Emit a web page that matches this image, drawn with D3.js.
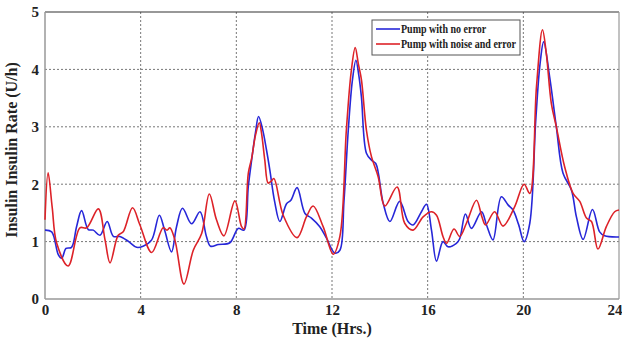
<!DOCTYPE html>
<html><head><meta charset="utf-8">
<script src="https://cdn.jsdelivr.net/npm/d3@7/dist/d3.min.js"></script>
<style>body{margin:0;background:#fff}svg{display:block}</style>
</head><body>
<svg id="c" width="622" height="340"></svg>
<script>
const xTicks = [0,4,8,12,16,20,24];
const yTicks = [0,1,2,3,4,5];
const seriesNames = ["Pump with no error","Pump with noise and error"];
const blueT = [0,0.28,0.56,0.7,0.88,1.11,1.32,1.53,1.81,2.02,2.3,2.6,2.86,3.13,3.5,3.83,4.1,4.46,4.78,5.0,5.29,5.5,5.75,6.13,6.48,6.75,6.92,7.25,7.73,8.08,8.32,8.5,8.64,8.8,8.93,9.1,9.26,9.4,9.6,9.82,10.1,10.28,10.54,10.87,11.14,11.49,11.77,12.12,12.33,12.5,12.68,12.85,13.0,13.12,13.23,13.44,13.65,13.83,14.14,14.42,14.83,15.18,15.39,15.74,15.95,16.16,16.37,16.64,16.85,17.2,17.34,17.58,17.83,18.25,18.46,18.73,19.08,19.36,19.57,19.8,20.03,20.27,20.52,20.7,20.85,21.1,21.38,21.66,22.01,22.22,22.5,22.89,23.19,23.4,24];
const blueV = [1.2,1.17,0.77,0.71,0.88,0.9,1.26,1.54,1.21,1.2,1.11,1.35,1.09,1.09,1.0,0.9,0.92,1.03,1.46,1.2,0.82,1.26,1.58,1.31,1.52,1.09,0.92,0.95,0.98,1.23,1.2,1.96,2.42,2.9,3.18,2.95,2.6,2.25,1.7,1.35,1.66,1.72,1.94,1.49,1.41,1.26,1.06,0.8,0.85,1.7,2.94,3.8,4.16,3.9,3.52,2.54,2.42,2.36,1.67,1.35,1.7,1.35,1.29,1.52,1.65,1.2,0.66,1.0,0.91,0.97,1.05,1.48,1.23,1.52,1.29,1.03,1.78,1.64,1.55,1.3,1.0,1.32,3.12,4.1,4.48,3.87,3.0,2.19,1.9,1.43,1.04,1.56,1.17,1.1,1.08];
const redT = [0,0.13,0.3,0.49,0.97,1.46,1.74,2.23,2.51,2.72,3.06,3.27,3.66,3.97,4.46,4.94,5.1,5.22,5.43,5.81,6.2,6.55,6.87,7.17,7.48,7.94,8.22,8.32,8.5,8.64,8.8,8.96,9.05,9.19,9.33,9.45,9.57,9.96,10.54,10.93,11.21,11.63,12.05,12.33,12.6,12.8,12.97,13.1,13.23,13.44,13.65,13.93,14.21,14.72,15.04,15.39,15.81,16.16,16.37,16.64,16.79,17.1,17.34,17.62,18.04,18.27,18.42,18.8,19.15,19.64,20.03,20.27,20.55,20.8,20.96,21.17,21.38,21.73,22.08,22.36,22.64,22.85,23.12,23.47,23.82,24];
const redV = [1.38,2.2,1.6,0.97,0.575,1.24,1.24,1.57,1.03,0.63,1.11,1.17,1.59,1.29,0.81,1.24,1.2,1.24,1.03,0.26,0.85,1.14,1.83,1.38,1.1,1.71,1.26,1.22,2.19,2.45,2.85,3.07,2.9,2.42,2.02,2.05,2.1,1.46,1.07,1.43,1.62,1.26,0.78,1.09,2.94,3.95,4.38,4.1,3.82,2.94,2.48,2.13,1.62,1.95,1.32,1.2,1.43,1.52,1.46,1.09,0.97,1.22,1.09,1.32,1.72,1.43,1.29,1.52,1.27,1.61,2.0,1.84,3.7,4.69,4.28,3.41,3.0,2.3,1.84,1.7,1.41,1.35,0.87,1.26,1.52,1.55];

const svg = d3.select("#c");
const L = 45, R = 619, T = 12, B = 299;
const x = d3.scaleLinear().domain([0,24]).range([L,R]);
const y = d3.scaleLinear().domain([0,5]).range([B,T]);
const font = "'Liberation Serif','Times New Roman',serif";

// grid
svg.append("g").selectAll("line").data(xTicks.filter(d=>d>0&&d<24)).join("line")
  .attr("x1",d=>x(d)).attr("x2",d=>x(d)).attr("y1",T).attr("y2",B)
  .attr("stroke","#777").attr("stroke-width",1).attr("stroke-dasharray","2,2");
svg.append("g").selectAll("line").data(yTicks.filter(d=>d>0&&d<5)).join("line")
  .attr("y1",d=>y(d)).attr("y2",d=>y(d)).attr("x1",L).attr("x2",R)
  .attr("stroke","#777").attr("stroke-width",1).attr("stroke-dasharray","2,2");

// frame
svg.append("line").attr("x1",L).attr("x2",R).attr("y1",T).attr("y2",T).attr("stroke","#333").attr("stroke-width",1.2);
svg.append("line").attr("x1",R).attr("x2",R).attr("y1",T).attr("y2",B).attr("stroke","#999").attr("stroke-width",1.2);
svg.append("line").attr("x1",L).attr("x2",L).attr("y1",T).attr("y2",B).attr("stroke","#999").attr("stroke-width",1.5);
svg.append("line").attr("x1",L).attr("x2",R).attr("y1",B).attr("y2",B).attr("stroke","#999").attr("stroke-width",1.5);

// axes ticks labels
const xAxis = d3.axisBottom(x).tickValues(xTicks).tickSize(0).tickPadding(5).tickFormat(d3.format("d"));
const gx = svg.append("g").attr("transform",`translate(0,${B})`).call(xAxis);
gx.select(".domain").remove();
gx.selectAll("text").attr("font-family",font).attr("font-weight","bold").attr("font-size",15).attr("fill","#222");
gx.selectAll(".tick").filter(d=>d===24).select("text").attr("text-anchor","end").attr("dx",3);
const yAxis = d3.axisLeft(y).tickValues(yTicks).tickSize(0).tickPadding(6).tickFormat(d3.format("d"));
const gy = svg.append("g").attr("transform",`translate(${L},0)`).call(yAxis);
gy.select(".domain").remove();
gy.selectAll("text").attr("font-family",font).attr("font-weight","bold").attr("font-size",15).attr("fill","#222");

// lines
const line = d3.line().x(d=>x(d[0])).y(d=>y(d[1])).curve(d3.curveCatmullRom.alpha(0.5));
const blue = blueT.map((t,i)=>[t,blueV[i]]);
const red = redT.map((t,i)=>[t,redV[i]]);
svg.append("path").datum(blue).attr("d",line).attr("fill","none").attr("stroke","#2727d8").attr("stroke-width",1.6);
svg.append("path").datum(red).attr("d",line).attr("fill","none").attr("stroke","#dd2228").attr("stroke-width",1.6);

// labels
svg.append("text").attr("x",(L+R)/2).attr("y",334).attr("text-anchor","middle")
  .attr("font-family",font).attr("font-weight","bold").attr("font-size",16).attr("fill","#222").text("Time (Hrs.)");
svg.append("text").attr("transform","translate(17,150) rotate(-90)").attr("text-anchor","middle")
  .attr("font-family",font).attr("font-weight","bold").attr("font-size",16).attr("fill","#222").text("Insulin Insulin Rate (U/h)");

// legend
const lg = svg.append("g");
lg.append("rect").attr("x",372).attr("y",20).attr("width",148).attr("height",35).attr("fill","#fff").attr("stroke","#555").attr("stroke-width",1);
const colors = ["#2727d8","#dd2228"];
const texts = [];
seriesNames.forEach((n,i)=>{
  const yy = 29 + i*15;
  lg.append("line").attr("x1",376).attr("x2",400).attr("y1",yy).attr("y2",yy).attr("stroke",colors[i]).attr("stroke-width",1.6);
  texts.push(lg.append("text").attr("x",401).attr("y",yy+4).attr("font-family",font).attr("font-weight","bold").attr("font-size",12).attr("fill","#222").text(n));
});
const k = 115 / texts[1].node().getComputedTextLength();
texts.forEach(t=>{ const w = t.node().getComputedTextLength(); t.attr("textLength", w*k).attr("lengthAdjust","spacingAndGlyphs"); });
</script>
</body></html>
